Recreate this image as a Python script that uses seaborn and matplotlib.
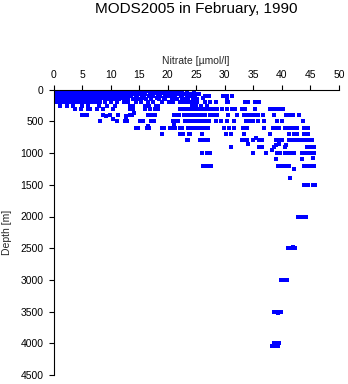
import matplotlib
matplotlib.use("Agg")
import matplotlib.pyplot as plt
import seaborn as sns
import pandas as pd

# Nitrate profiles (MODS2005, February 1990): nitrate values grouped by
# standard depth level, plus a few odd-depth observations.
depth_levels = [0, 20, 50, 75, 100, 125, 150, 200, 250, 300, 400, 500, 600,
                700, 800, 900, 1000, 1100, 1200, 1500, 2000, 2500, 3000,
                3500, 4000]

nitrate_by_level = [
    # 0 m
    [0.0, 0.3, 0.7, 1.0, 1.4, 1.8, 2.1, 2.5, 2.8, 3.2, 3.6, 3.9, 4.3, 4.7,
     5.0, 5.4, 5.7, 6.1, 6.5, 6.8, 7.2, 7.6, 7.9, 8.3, 8.6, 9.0, 9.4, 9.7,
     10.1, 10.5, 10.8, 11.2, 11.6, 11.9, 12.3, 12.7, 13.0, 13.4, 13.8, 14.2,
     14.5, 14.9, 15.3, 15.7, 16.1, 16.6, 17.0, 17.6, 18.1, 18.8, 19.5, 20.1,
     20.8, 21.5],
    # 20 m
    [0.1, 0.5, 0.8, 1.2, 1.6, 1.9, 2.3, 2.6, 3.0, 3.4, 3.7, 4.1, 4.5, 4.8,
     5.2, 5.6, 5.9, 6.3, 6.6, 7.0, 7.4, 7.7, 8.1, 8.5, 8.8, 9.2, 9.5, 9.9,
     10.3, 10.6, 11.0, 11.4, 11.7, 12.1, 12.4, 12.9, 13.3, 13.6, 14.0, 14.6,
     15.0, 15.6, 16.4, 17.3, 18.5, 19.2, 20.6, 22.0],
    # 50 m
    [0.0, 0.4, 0.7, 1.1, 1.5, 1.8, 2.2, 2.6, 2.9, 3.3, 3.6, 4.0, 4.4, 4.7,
     5.1, 5.5, 5.8, 6.2, 6.5, 6.9, 7.3, 7.6, 8.0, 8.4, 8.7, 9.1, 9.4, 9.8,
     10.2, 10.5, 10.9, 11.3, 11.8, 12.3, 12.8, 13.4, 14.2, 15.0, 16.1, 16.9,
     18.0, 19.0, 20.3, 21.5, 22.5, 23.3, 24.6],
    # 75 m
    [0.2, 0.5, 0.9, 1.3, 1.6, 2.0, 2.4, 2.7, 3.1, 3.4, 3.8, 4.2, 4.5, 4.9,
     5.3, 5.6, 6.0, 6.3, 6.7, 7.1, 7.4, 7.8, 8.2, 8.5, 8.9, 9.3, 9.6, 10.0,
     10.4, 10.9, 11.3, 11.9, 12.5, 13.2, 14.1, 15.3, 16.0, 17.2, 18.3, 19.5,
     20.8, 21.7, 22.4, 22.9, 23.6, 24.3, 25.0, 25.4],
    # 100 m
    [0.0, 0.4, 0.8, 1.1, 1.5, 1.9, 2.2, 2.6, 3.0, 3.3, 3.7, 4.1, 4.4, 4.8,
     5.2, 5.5, 5.9, 6.3, 6.6, 7.0, 7.4, 7.7, 8.1, 8.5, 8.9, 9.3, 9.8, 10.3,
     10.8, 11.4, 12.0, 12.6, 13.5, 14.6, 15.9, 16.8, 17.5, 18.6, 19.9, 20.5,
     21.3, 22.3, 23.3, 24.0, 24.8, 26.6, 27.3, 29.6, 30.0, 30.4, 31.3],
    # 125 m
    [0.1, 0.5, 0.9, 1.2, 1.6, 2.0, 2.4, 2.7, 3.1, 3.5, 3.9, 4.2, 4.6, 5.0,
     5.4, 5.7, 6.1, 6.5, 6.9, 7.3, 7.7, 8.1, 8.6, 9.1, 9.6, 10.2, 11.0, 11.4,
     12.2, 13.0, 14.4, 15.5, 17.0, 18.2, 19.4, 21.0, 22.5, 23.5, 24.5, 26.2],
    # 150 m
    [0.0, 0.4, 0.8, 1.2, 1.7, 2.1, 2.5, 3.0, 3.4, 3.8, 4.3, 4.7, 5.2, 5.6,
     6.1, 6.6, 7.0, 7.6, 8.2, 9.0, 9.8, 10.6, 11.5, 12.7, 13.9, 15.0, 16.2,
     17.1, 18.4, 19.6, 20.8, 21.6, 22.8, 23.6, 24.4, 25.1, 30.3],
    # 200 m
    [0.2, 0.6, 1.1, 1.5, 2.0, 2.5, 3.1, 3.6, 4.0, 4.6, 5.3, 6.0, 6.8, 7.4,
     8.1, 9.0, 10.1, 11.2, 12.3, 13.0, 14.5, 15.4, 16.6, 17.5, 19.0, 20.3,
     21.0, 22.2, 22.8, 23.5, 24.1, 24.7, 25.2, 26.5, 27.4, 28.4, 30.3, 30.6,
     33.6, 34.0, 35.3, 36.0],
    # 250 m
    [1.2, 2.4, 3.5, 5.0, 6.1, 7.9, 9.4, 10.8, 13.4, 14.0, 16.1, 16.8, 17.9,
     18.3, 24.2, 24.7, 25.0, 25.8, 26.9],
    # 300 m
    [3.8, 4.9, 6.0, 6.4, 7.6, 8.7, 10.4, 13.4, 14.0, 16.1, 16.9, 17.8, 18.3,
     22.2, 22.6, 23.0, 23.5, 24.0, 24.4, 24.9, 25.4, 26.1, 26.6, 27.2, 28.0,
     28.4, 28.7, 29.5, 30.4, 31.3, 31.8, 33.0, 33.6, 35.3, 37.9, 38.3, 38.8,
     39.3, 39.8, 40.2],
    # 400 m
    [5.0, 5.4, 5.9, 8.7, 9.9, 11.3, 13.4, 13.8, 16.6, 17.0, 17.4, 17.8, 21.1,
     21.6, 22.0, 22.9, 23.3, 23.7, 24.1, 24.5, 24.9, 25.3, 25.7, 26.1, 26.5,
     27.4, 27.9, 28.3, 28.6, 30.6, 32.2, 33.4, 33.9, 34.3, 34.7, 35.1, 35.5,
     35.8, 36.7, 38.7, 40.8, 41.2, 41.6, 42.0, 43.0],
    # 500 m
    [8.1, 11.1, 12.5, 12.8, 15.1, 15.6, 17.0, 17.6, 20.9, 21.4, 21.8, 23.0,
     23.4, 23.8, 24.2, 24.6, 25.0, 25.4, 25.8, 26.2, 26.6, 27.0, 27.3, 28.4,
     29.3, 30.3, 31.6, 33.7, 34.0, 34.3, 34.9, 35.9, 36.9, 39.2, 40.0, 43.7],
    # 600 m
    [14.4, 14.8, 16.4, 16.8, 19.0, 19.4, 20.4, 20.8, 21.2, 22.2, 22.5, 23.5,
     23.9, 24.3, 24.7, 25.1, 25.5, 25.9, 26.3, 26.7, 27.0, 29.9, 30.8, 31.6,
     33.1, 33.5, 33.9, 36.9, 38.4, 38.8, 39.2, 39.5, 40.6, 41.0, 41.4, 41.8,
     42.2, 42.6, 43.8, 44.2, 44.6],
    # 700 m
    [19.0, 22.2, 22.7, 23.7, 23.9, 26.0, 30.2, 31.1, 33.4, 37.9, 41.2, 42.1,
     42.6, 43.8, 44.6],
    # 800 m
    [23.3, 23.6, 25.6, 26.0, 26.4, 26.8, 27.1, 33.0, 33.3, 33.6, 33.9, 35.0,
     36.0, 36.5, 38.9, 39.3, 39.7, 40.0, 41.2, 41.6, 42.0, 42.4, 42.9, 43.3,
     43.7, 44.1, 44.5, 44.9, 45.2],
    # 900 m
    [31.0, 36.0, 36.3, 36.6, 38.6, 40.6, 44.4, 44.8, 45.2, 45.6],
    # 1000 m
    [26.0, 26.8, 27.1, 27.4, 35.0, 37.2, 39.2, 39.6, 40.6, 41.2, 41.6, 42.1,
     43.6, 44.0, 44.4, 44.8, 45.2, 45.6],
    # 1100 m
    [38.9, 43.5],
    # 1200 m
    [26.2, 26.6, 27.0, 27.4, 27.6, 39.4, 39.8, 40.2, 40.6, 40.8, 41.2, 43.8,
     44.2, 44.6, 45.0, 45.4, 45.6],
    # 1500 m
    [43.8, 44.6, 45.4, 45.8],
    # 2000 m
    [42.8, 43.3, 43.8, 44.3],
    # 2500 m
    [41.0, 41.3, 41.9, 42.3],
    # 3000 m
    [39.9, 40.3, 40.7, 40.9],
    # 3500 m
    [38.7, 39.1, 39.5, 39.9],
    # 4000 m
    [38.7, 39.1, 39.5],
]

# Observations reported at non-standard depths
extra_nitrate = [9.2, 12.7, 14.1, 10.4, 12.7, 21.1, 16.6, 35.5, 34.0, 39.5,
                 38.9, 40.7, 38.3, 45.4, 42.2, 41.5, 42.0, 39.3, 38.2, 39.0,
                 39.3]
extra_depth = [420, 420, 375, 470, 450, 550, 570, 760, 860, 860,
               870, 880, 950, 1080, 1250, 1400, 2480, 3520, 4040, 4040,
               4040]

x_ticks = [0, 5, 10, 15, 20, 25, 30, 35, 40, 45, 50]
y_ticks = [0, 500, 1000, 1500, 2000, 2500, 3000, 3500, 4000, 4500]

rows = []
for depth, values in zip(depth_levels, nitrate_by_level):
    rows.extend((v, depth) for v in values)
rows.extend(zip(extra_nitrate, extra_depth))
df = pd.DataFrame(rows, columns=["nitrate", "depth"])

sns.set_theme(style="white")
plt.rcParams["font.family"] = ["Liberation Sans", "DejaVu Sans"]

fig = plt.figure(figsize=(3.48, 3.84), dpi=100)
ax = fig.add_axes([53.5 / 348, 1 - 375 / 384, 285.5 / 348, 285.3 / 384])

pts = sns.scatterplot(data=df, x="nitrate", y="depth", ax=ax, marker="s",
                      s=5.2, color="#0000ff", linewidth=0, legend=False)
for coll in ax.collections:
    coll.set_antialiased(False)

ax.set_xlim(0, 50)
ax.set_ylim(4500, 0)
ax.set_xticks(x_ticks)
ax.set_yticks(y_ticks)
ax.xaxis.tick_top()
ax.xaxis.set_label_position("top")
ax.set_xlabel("Nitrate [µmol/l]", fontsize=7.5, labelpad=4)
ax.set_ylabel("Depth [m]", fontsize=7.5)
ax.yaxis.set_label_coords(-0.145, 0.5)

for side in ("right", "bottom"):
    ax.spines[side].set_visible(False)
for side in ("top", "left"):
    ax.spines[side].set_color("black")
    ax.spines[side].set_linewidth(0.8)

ax.tick_params(axis="both", direction="out", length=3.6, width=0.8,
               color="black", labelsize=7.5, pad=3.5, labelcolor="black")
ax.tick_params(axis="x", top=True, bottom=False)
ax.tick_params(axis="y", left=True, right=False)

fig.text(196 / 348, 1 - 13.5 / 384, "MODS2005 in February, 1990",
         ha="center", va="baseline", fontsize=11, color="black")

fig.savefig("out.png", dpi=100)
